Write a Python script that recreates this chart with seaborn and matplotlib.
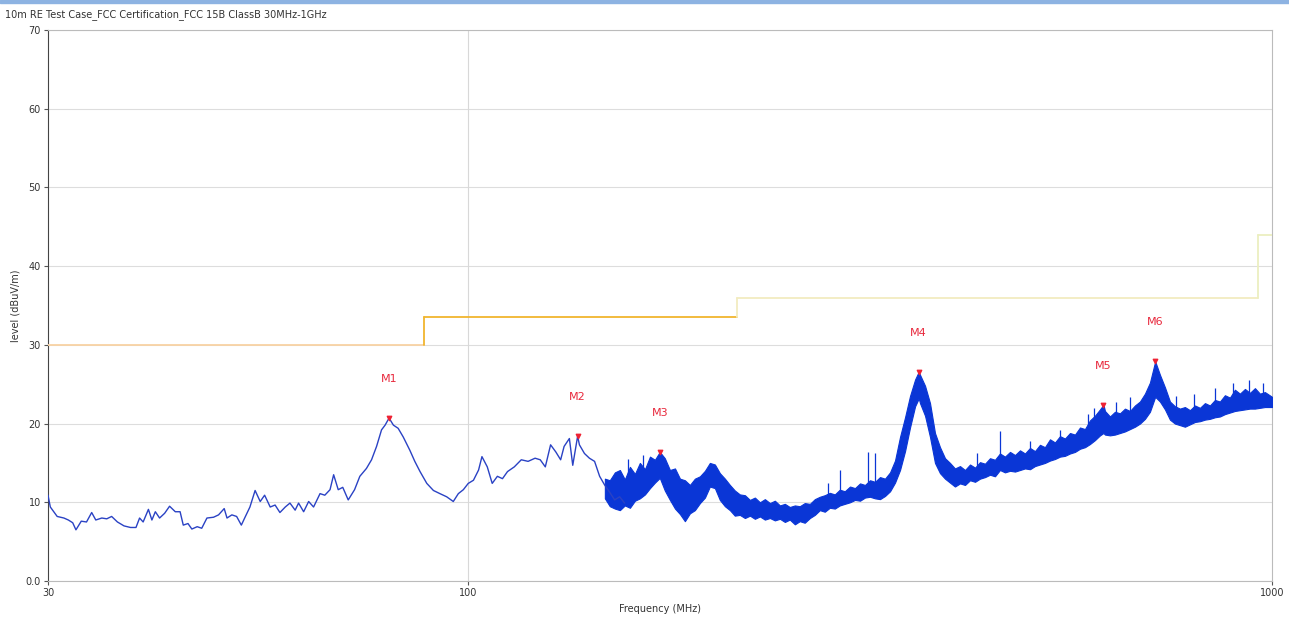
import numpy as np
import pandas as pd
import matplotlib
matplotlib.use('Agg')
import matplotlib.pyplot as plt
import seaborn as sns

# Measured trace, low band (thin line part): frequency in MHz, level in dBuV/m
trace_freq = [30.0, 30.2, 30.8, 31.4, 31.8, 32.2, 32.5, 33.0, 33.5, 34.0, 34.4, 35.0, 35.5, 36.0,
              36.6, 37.3, 38.0, 38.6, 39.0, 39.4, 40.0, 40.4, 40.8, 41.3, 41.9, 42.5, 43.2, 43.8,
              44.2, 44.8, 45.3, 46.0, 46.6, 47.3, 48.2, 48.9, 49.7, 50.1, 50.8, 51.5, 52.2, 52.7,
              53.5, 54.3, 55.1, 55.8, 56.7, 57.5, 58.3, 59.2, 60.0, 60.9, 61.5, 62.4, 63.3, 64.2,
              65.4, 66.3, 67.3, 68.0, 68.9, 69.8, 70.9, 72.2, 73.3, 74.7, 75.8, 76.9, 78.0, 78.8,
              79.7, 80.7, 81.8, 83.0, 84.6, 85.8, 87.1, 88.8, 90.5, 92.2, 94.0, 95.8, 97.2, 98.6,
              100.0, 101.5, 103.0, 104.0, 105.6, 107.1, 108.7, 110.3, 111.9, 114.1, 116.4, 118.7,
              121.1, 122.9, 124.7, 126.6, 128.5, 130.3, 131.6, 133.6, 134.9, 136.8, 137.5, 139.5,
              141.5, 143.6, 145.7, 147.8, 149.9, 152.1, 154.3, 156.5]
trace_level = [10.9, 9.4, 8.2, 8.0, 7.75, 7.4, 6.5, 7.6, 7.5, 8.7, 7.75, 8.0, 7.9, 8.2,
               7.5, 7.0, 6.8, 6.8, 8.0, 7.5, 9.1, 7.75, 8.8, 8.0, 8.6, 9.5, 8.8, 8.8,
               7.1, 7.3, 6.6, 6.9, 6.7, 8.0, 8.1, 8.4, 9.2, 8.0, 8.4, 8.2, 7.1, 8.0,
               9.4, 11.5, 10.1, 10.9, 9.4, 9.65, 8.7, 9.4, 9.9, 9.0, 9.9, 8.8, 10.1, 9.4,
               11.1, 10.9, 11.6, 13.5, 11.6, 11.9, 10.3, 11.6, 13.3, 14.3, 15.4, 17.1, 19.2, 19.8,
               20.7, 19.8, 19.4, 18.3, 16.6, 15.2, 13.9, 12.4, 11.5, 11.1, 10.7, 10.1, 11.1, 11.6,
               12.4, 12.8, 14.1, 15.8, 14.5, 12.4, 13.3, 13.0, 13.9, 14.5, 15.4, 15.2,
               15.6, 15.4, 14.5, 17.3, 16.4, 15.4, 17.1, 18.1, 14.7, 18.4, 17.3, 16.2,
               15.6, 15.2, 13.3, 12.2, 11.3, 10.3, 10.7, 9.9]

# Noisy upper band: lower / upper envelope of the dense trace
band_freq = [147.9, 150.0, 152.2, 154.4, 156.6, 158.9, 161.2, 163.5, 165.9, 168.3, 170.7, 173.1,
             175.6, 178.2, 180.8, 183.4, 186.0, 188.7, 191.4, 194.2, 197.0, 199.8, 202.7, 205.6,
             208.6, 211.6, 214.6, 217.7, 220.9, 224.1, 227.3, 230.6, 233.9, 237.3, 240.7, 244.2,
             247.7, 251.2, 254.9, 258.5, 262.2, 266.1, 269.9, 273.8, 277.7, 281.7, 285.8, 289.9,
             294.1, 298.5, 302.8, 307.2, 311.6, 316.1, 320.7, 325.3, 330.0, 334.8, 339.6, 344.5,
             349.5, 354.5, 359.7, 363.5, 364.8, 370.1, 375.4, 380.8, 386.3, 391.9, 397.5, 403.2,
             409.1, 415.0, 421.0, 427.1, 433.2, 439.5, 445.8, 452.2, 458.7, 465.3, 472.1, 478.9,
             485.8, 492.8, 499.9, 507.1, 514.4, 521.8, 529.4, 537.0, 544.8, 552.6, 560.6, 568.7,
             576.9, 585.2, 593.6, 602.2, 610.9, 617.0, 619.7, 628.6, 637.7, 646.9, 656.2, 665.7,
             675.3, 685.0, 694.9, 704.9, 715.6, 725.4, 735.9, 746.5, 757.2, 768.2, 779.2, 790.5,
             801.9, 813.5, 825.2, 837.1, 849.2, 861.4, 873.8, 886.4, 899.2, 912.2, 925.4, 938.7,
             952.3, 966.0, 979.9, 1000.0]
band_lo = [10.5, 9.5, 9.2, 9.0, 9.6, 9.3, 10.2, 10.5, 11.0, 11.8, 12.5, 13.1,
           11.5, 10.3, 9.2, 8.5, 7.6, 8.6, 9.0, 9.9, 10.6, 12.0, 11.8, 10.3,
           9.5, 9.0, 8.3, 8.4, 8.0, 8.3, 7.9, 8.2, 7.8, 8.0, 7.7, 7.9,
           7.5, 7.8, 7.2, 7.6, 7.4, 8.0, 8.4, 9.0, 8.8, 9.3, 9.2, 9.6,
           9.8, 10.0, 10.3, 10.2, 10.6, 10.7, 10.5, 10.4, 10.8, 11.4, 12.5, 14.1,
           16.5, 19.5, 22.2, 23.2, 22.6, 21.0, 18.3, 15.0, 13.7, 13.0, 12.5, 12.0,
           12.4, 12.2, 12.8, 12.6, 13.0, 13.2, 13.5, 13.3, 14.1, 13.8, 14.0, 13.9,
           14.1, 14.3, 14.2, 14.6, 14.8, 15.0, 15.3, 15.5, 15.8, 15.9, 16.2, 16.4,
           16.8, 17.0, 17.4, 17.9, 18.5, 18.8, 18.6, 18.5, 18.6, 18.8, 19.0, 19.3,
           19.6, 20.0, 20.6, 21.5, 23.4, 22.8, 21.8, 20.5, 20.0, 19.8, 19.6, 19.9,
           20.2, 20.3, 20.5, 20.6, 20.8, 20.9, 21.2, 21.4, 21.6, 21.7, 21.8, 21.9,
           21.9, 22.0, 22.1, 22.1]
band_hi = [13.0, 12.8, 13.8, 14.1, 12.9, 14.5, 13.6, 15.0, 14.2, 15.8, 15.4, 16.4,
           15.6, 14.1, 14.3, 13.0, 12.8, 12.2, 13.0, 13.3, 14.0, 15.0, 14.8, 13.7,
           13.0, 12.2, 11.5, 11.0, 10.9, 10.3, 10.6, 10.0, 10.4, 9.9, 10.2, 9.6,
           9.8, 9.4, 9.6, 9.5, 9.9, 9.8, 10.4, 10.7, 10.9, 11.2, 11.0, 11.6,
           11.4, 12.0, 11.8, 12.4, 12.2, 12.8, 12.6, 13.2, 13.0, 13.8, 15.3, 18.3,
           20.8, 23.5, 25.6, 26.6, 26.2, 24.8, 22.6, 18.8, 17.0, 15.6, 15.0, 14.3,
           14.6, 14.1, 14.8, 14.4, 15.1, 14.9, 15.6, 15.4, 16.2, 15.8, 16.4, 16.0,
           16.6, 16.2, 16.9, 16.5, 17.3, 17.0, 18.0, 17.6, 18.4, 18.1, 18.8, 18.6,
           19.5, 19.3, 20.4, 21.0, 21.8, 22.4, 21.6, 20.9, 21.5, 21.3, 21.9, 21.6,
           22.3, 22.8, 23.8, 25.2, 27.9, 26.2, 24.6, 22.8, 22.2, 21.9, 22.1, 21.7,
           22.3, 22.0, 22.6, 22.3, 23.0, 22.8, 23.6, 23.3, 24.3, 23.8, 24.4, 23.9,
           24.5, 23.8, 24.0, 23.4]

# Narrow spikes sticking out of the band
spike_freq = [158.0, 165.0, 280.0, 289.9, 314.0, 321.0, 430.0, 458.7, 500.0, 545.0, 590.0,
              600.0, 640.0, 665.0, 760.0, 800.0, 850.0, 895.0, 935.0, 975.0]
spike_lo = [10.0, 11.0, 9.5, 10.0, 11.0, 11.0, 13.5, 14.5, 15.0, 16.0, 18.0,
            18.5, 19.5, 20.0, 21.0, 21.0, 21.5, 22.0, 22.5, 22.5]
spike_hi = [15.5, 16.0, 12.5, 14.1, 16.4, 16.2, 16.3, 19.0, 17.8, 19.2, 21.2,
            22.0, 22.8, 23.4, 23.5, 23.8, 24.5, 25.2, 25.5, 25.2]

# FCC 15B Class B limit (10 m)
limit_freq = [30, 88, 216, 960, 1000]
limit_level = [30.0, 33.5, 36.0, 44.0]
limit_colors = ['#f8d2a4', '#f1b52e', '#f2ecc0', '#ecefc0']

# Markers
marker_names = ['M1', 'M2', 'M3', 'M4', 'M5', 'M6']
marker_freq = [79.7, 136.8, 173.1, 363.3, 616.8, 715.6]
marker_level = [20.7, 18.4, 16.4, 26.6, 22.4, 27.9]

y_ticks = [0, 10, 20, 30, 40, 50, 60, 70]
y_labels = ['0.0', '10', '20', '30', '40', '50', '60', '70']
x_ticks = [30, 100, 1000]
x_labels = ['30', '100', '1000']

sns.set_style('white')
plt.rcParams['font.family'] = ['DejaVu Sans']

fig = plt.figure(figsize=(12.89, 6.21), dpi=100)
ax = fig.add_axes([48 / 1289, 1 - 581 / 621, 1224 / 1289, 551 / 621])
ax.set_xscale('log')

trace_color = '#2a42c4'
band_color = '#0a36d6'

# limit line as steps
for i, lvl in enumerate(limit_level):
    ax.plot([limit_freq[i], limit_freq[i + 1]], [lvl, lvl], color=limit_colors[i], lw=1.3, zorder=3)
    if i > 0:
        ax.plot([limit_freq[i], limit_freq[i]], [limit_level[i - 1], lvl], color=limit_colors[i], lw=1.3, zorder=3)

ax.fill_between(band_freq, band_lo, band_hi, color=band_color, lw=0.8, edgecolor=band_color, zorder=4)
ax.vlines(spike_freq, spike_lo, spike_hi, color=band_color, lw=0.9, zorder=4)
sns.lineplot(x=trace_freq, y=trace_level, color=trace_color, lw=1, ax=ax, zorder=5)

ax.scatter(marker_freq, marker_level, marker='v', s=10, color='#ee2233', zorder=6)
for name, f, lvl in zip(marker_names, marker_freq, marker_level):
    ax.annotate(name, (f, lvl), xytext=(0, 28), textcoords='offset points',
                ha='center', va='center', color='#e8283c', fontsize=8)

ax.set_xlim(30, 1000)
ax.set_ylim(0, 70)
ax.set_yticks(y_ticks)
ax.set_yticklabels(y_labels)
ax.set_xticks(x_ticks)
ax.set_xticklabels(x_labels)
ax.xaxis.set_minor_locator(matplotlib.ticker.NullLocator())
ax.tick_params(axis='both', labelsize=7, length=3, width=0.8, color='#555555', labelcolor='#333333',
               left=True, bottom=True, pad=2)
ax.grid(True, axis='y', color='#dddddd', lw=0.8)
ax.axvline(100, color='#d8d8d8', lw=0.8, zorder=1)
ax.set_axisbelow(True)

ax.spines['left'].set_color('#444444')
for s in ['top', 'right', 'bottom']:
    ax.spines[s].set_color('#bbbbbb')

ax.set_xlabel('Frequency (MHz)', fontsize=7, color='#333333', labelpad=4)
ax.set_ylabel('level (dBuV/m)', fontsize=7, color='#333333', labelpad=4)

fig.text(5 / 1289, 1 - 15 / 621, '10m RE Test Case_FCC Certification_FCC 15B ClassB 30MHz-1GHz',
         fontsize=7, color='#333333', va='center', ha='left')
# light blue strip along the top edge
fig.patches.append(matplotlib.patches.Rectangle((0, 1 - 3 / 621), 1, 3 / 621, transform=fig.transFigure,
                                                color='#8db3e2', zorder=0))

fig.savefig('out.png', dpi=100)
